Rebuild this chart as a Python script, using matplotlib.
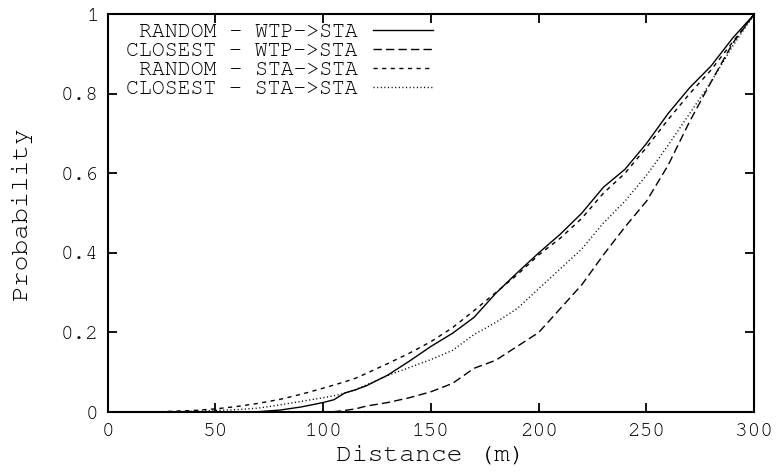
import matplotlib
matplotlib.use("Agg")
import matplotlib.pyplot as plt
from matplotlib import font_manager

# ========== DATA ==========
distance = [0, 20, 40, 50, 60, 70, 80, 90, 100, 105, 110, 115, 120, 130, 140, 150,
            160, 170, 180, 190, 200, 210, 220, 230, 240, 250, 260, 270, 280, 290, 300]

random_wtp = [0, 0, 0, 0, 0, 0.001, 0.005, 0.013, 0.024, 0.031, 0.048, 0.056, 0.066,
              0.093, 0.128, 0.165, 0.198, 0.238, 0.298, 0.35, 0.40, 0.447, 0.50, 0.565,
              0.61, 0.675, 0.75, 0.815, 0.87, 0.94, 1.0]
closest_wtp = [0, 0, 0, 0, 0, 0, 0, 0, 0, 0.001, 0.004, 0.008, 0.015, 0.024, 0.036,
               0.051, 0.072, 0.11, 0.13, 0.165, 0.20, 0.26, 0.32, 0.395, 0.465, 0.53,
               0.62, 0.73, 0.83, 0.927, 1.0]
random_sta = [0, 0, 0.004, 0.008, 0.014, 0.022, 0.032, 0.045, 0.06, 0.068, 0.076, 0.085,
              0.097, 0.122, 0.148, 0.177, 0.212, 0.255, 0.30, 0.345, 0.395, 0.437, 0.487,
              0.55, 0.60, 0.665, 0.735, 0.80, 0.86, 0.93, 1.0]
closest_sta = [0, 0, 0.002, 0.004, 0.006, 0.01, 0.018, 0.027, 0.036, 0.041, 0.047, 0.056,
               0.068, 0.092, 0.112, 0.132, 0.155, 0.195, 0.225, 0.26, 0.31, 0.36, 0.41,
               0.475, 0.53, 0.595, 0.67, 0.75, 0.83, 0.92, 1.0]

labels = ["RANDOM - WTP->STA", "CLOSEST - WTP->STA",
          "RANDOM - STA->STA", "CLOSEST - STA->STA"]
xticks = [0, 50, 100, 150, 200, 250, 300]
yticks = [0, 0.2, 0.4, 0.6, 0.8, 1]

# ========== PLOT ==========
# prefer a Courier-like face if one is around, else Liberation Mono
installed = {f.name for f in font_manager.fontManager.ttflist}
mono = [f for f in ['Nimbus Mono PS', 'FreeMono', 'Courier New', 'Liberation Mono',
                    'DejaVu Sans Mono'] if f in installed]
plt.rcParams['font.family'] = mono

fig = plt.figure(figsize=(7.8, 4.72), dpi=100)
ax = fig.add_axes([0.138, 0.127, 0.829, 0.843])

lw = 1.0
ax.plot(distance, random_wtp, color='black', lw=lw, linestyle='-', label=labels[0])
ax.plot(distance, closest_wtp, color='black', lw=lw, linestyle=(0, (6, 3)), label=labels[1])
ax.plot(distance, random_sta, color='black', lw=lw, linestyle=(0, (3, 3.2)), label=labels[2])
ax.plot(distance, closest_sta, color='black', lw=lw, linestyle=(0, (0.8, 1.8)), label=labels[3])

ax.set_xlim(0, 300)
ax.set_ylim(0, 1)
ax.set_xticks(xticks)
ax.set_yticks(yticks)
ax.set_yticklabels([f"{v:g}" for v in yticks])
ax.tick_params(direction='in', length=6.5, width=1.3, top=True, right=True,
               labelsize=15, pad=6.5)
ax.tick_params(axis='x', pad=8)
for s in ax.spines.values():
    s.set_linewidth(1.5)

ax.set_xlabel('Distance (m)', fontsize=19, labelpad=4)
ax.set_ylabel('Probability', fontsize=19, labelpad=21)

ax.legend(loc='upper right', frameon=False, markerfirst=False, fontsize=15.5,
          handlelength=2.8, handletextpad=0.7, labelspacing=0.0,
          borderpad=0, borderaxespad=0, bbox_to_anchor=(0.5035, 0.98))

fig.savefig('out.png', dpi=100)
